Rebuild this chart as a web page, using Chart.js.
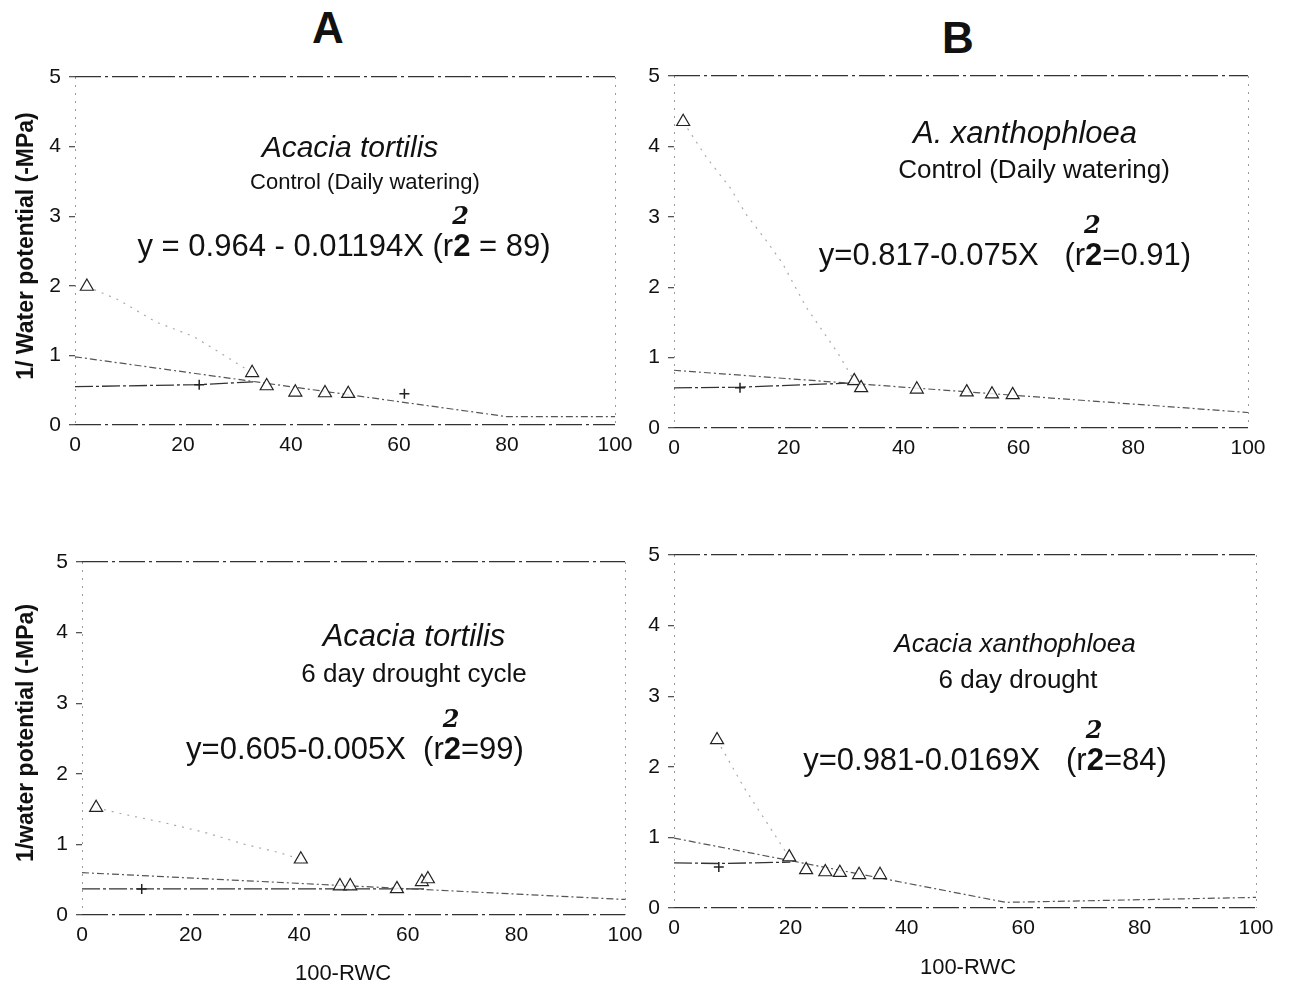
<!DOCTYPE html>
<html lang="en">
<head>
<meta charset="UTF-8" />
<title>1/Water potential vs 100-RWC</title>
<script src="https://cdn.jsdelivr.net/npm/chart.js@4.4.1/dist/chart.umd.min.js"></script>
<style>
  body { margin: 0; background: #fff; font-family: 'Liberation Sans', Arial, sans-serif; color: #111; }
  #page { position: relative; width: 1293px; height: 989px; overflow: hidden; }
  canvas.panel { position: absolute; }
  .txt { position: absolute; transform: translate(-50%, -50%); white-space: nowrap; }
  .letter { font-size: 44px; font-weight: bold; }
  .species { font-style: italic; font-size: 31px; }
  .treat { font-size: 26px; }
  .eq { font-size: 31px; }
  .r2 { position: relative; font-weight: 900; }
  .r2 i { position: absolute; left: -1px; top: -27px; font-size: 24px; font-family: 'DejaVu Serif', serif; font-weight: bold; }
  .ytitle { position: absolute; transform: translate(-50%, -50%) rotate(-90deg); font-size: 23px; font-weight: bold; white-space: nowrap; }
  .xtitle { font-size: 22px; }
</style>
</head>
<body>
<div id="page">
  <div class="txt letter" style="left:328px; top:28px;">A</div>
  <div class="txt letter" style="left:958px; top:38px;">B</div>

  <canvas id="panelA1" class="panel"></canvas>
  <canvas id="panelB1" class="panel"></canvas>
  <canvas id="panelA2" class="panel"></canvas>
  <canvas id="panelB2" class="panel"></canvas>

  <div class="ytitle" style="left:25px; top:246px;">1/ Water potential (-MPa)</div>
  <div class="ytitle" style="left:25px; top:733px;">1/water potential (-MPa)</div>

  <div class="txt species" style="left:350px; top:147px; font-size:30px;">Acacia tortilis</div>
  <div class="txt treat" style="left:365px; top:182px; font-size:22px;">Control (Daily watering)</div>
  <div class="txt eq" style="left:344px; top:246px;">y = 0.964 - 0.01194X (r<span class="r2">2<i>2</i></span> = 89)</div>

  <div class="txt species" style="left:1025px; top:133px;">A. xanthophloea</div>
  <div class="txt treat" style="left:1034px; top:169px;">Control (Daily watering)</div>
  <div class="txt eq" style="left:1005px; top:255px;">y=0.817-0.075X &nbsp; (r<span class="r2">2<i>2</i></span>=0.91)</div>

  <div class="txt species" style="left:414px; top:636px;">Acacia tortilis</div>
  <div class="txt treat" style="left:414px; top:673px;">6 day drought cycle</div>
  <div class="txt eq" style="left:355px; top:749px;">y=0.605-0.005X &nbsp;(r<span class="r2">2<i>2</i></span>=99)</div>

  <div class="txt species" style="left:1015px; top:643px; font-size:26px;">Acacia xanthophloea</div>
  <div class="txt treat" style="left:1018px; top:679px;">6 day drought</div>
  <div class="txt eq" style="left:985px; top:760px;">y=0.981-0.0169X &nbsp; (r<span class="r2">2<i>2</i></span>=84)</div>

  <div class="txt xtitle" style="left:343px; top:973px;">100-RWC</div>
  <div class="txt xtitle" style="left:968px; top:967px;">100-RWC</div>
</div>

<script>
  // axis ticks
  const xTicks = [0, 20, 40, 60, 80, 100];
  const yTicks = [0, 1, 2, 3, 4, 5];

  // A top: Acacia tortilis, control
  const a1TriX = [2.2, 32.8, 35.5, 40.8, 46.3, 50.6];
  const a1TriY = [1.99, 0.75, 0.56, 0.47, 0.46, 0.45];
  const a1PlusX = [23, 61];
  const a1PlusY = [0.58, 0.45];
  const a1RegX = [0, 80, 100];
  const a1RegY = [0.98, 0.12, 0.12];
  const a1CurveX = [2.2, 8, 15, 22, 26, 32.8];
  const a1CurveY = [1.99, 1.8, 1.48, 1.27, 1.08, 0.75];
  const a1FlatX = [0, 23, 33];
  const a1FlatY = [0.55, 0.58, 0.62];

  // B top: A. xanthophloea, control
  const b1TriX = [1.6, 31.4, 32.6, 42.3, 51, 55.4, 59];
  const b1TriY = [4.35, 0.67, 0.57, 0.55, 0.51, 0.48, 0.47];
  const b1PlusX = [11.5];
  const b1PlusY = [0.57];
  const b1RegX = [0, 100];
  const b1RegY = [0.82, 0.22];
  const b1CurveX = [1.6, 5.6, 9.8, 12.6, 16, 18.9, 23, 28.5, 31.4];
  const b1CurveY = [4.35, 3.85, 3.41, 3.03, 2.67, 2.34, 1.72, 1.07, 0.67];
  const b1FlatX = [0, 11.5, 31.4];
  const b1FlatY = [0.57, 0.58, 0.64];

  // A bottom: Acacia tortilis, 6 day drought cycle
  const a2TriX = [2.6, 40.3, 47.5, 49.4, 58, 62.6, 63.7];
  const a2TriY = [1.52, 0.79, 0.41, 0.41, 0.37, 0.47, 0.51];
  const a2PlusX = [11];
  const a2PlusY = [0.37];
  const a2RegX = [0, 100];
  const a2RegY = [0.6, 0.22];
  const a2CurveX = [2.6, 7.5, 15, 22.6, 30, 36, 40.3];
  const a2CurveY = [1.52, 1.43, 1.31, 1.17, 1.0, 0.89, 0.79];
  const a2FlatX = [0, 11, 63];
  const a2FlatY = [0.37, 0.37, 0.37];

  // B bottom: Acacia xanthophloea, 6 day drought
  const b2TriX = [7.4, 19.8, 22.7, 26, 28.5, 31.8, 35.4];
  const b2TriY = [2.38, 0.72, 0.54, 0.51, 0.5, 0.47, 0.47];
  const b2PlusX = [7.7];
  const b2PlusY = [0.58];
  const b2RegX = [0, 57, 100];
  const b2RegY = [0.99, 0.08, 0.15];
  const b2CurveX = [7.4, 12, 19.8];
  const b2CurveY = [2.38, 1.71, 0.72];
  const b2FlatX = [0, 7.7, 20];
  const b2FlatY = [0.64, 0.63, 0.65];

  function pts(xs, ys) {
    return xs.map((x, i) => ({ x: x, y: ys[i] }));
  }

  const tickFont = { family: "'Liberation Sans', Arial, sans-serif", size: 21 };

  function buildPanel(id, area, d) {
    const canvas = document.getElementById(id);
    const left = area.x0 - 60, top = area.y5 - 22;
    const w = area.x100 + 28 - left, h = area.y0 + 55 - top;
    canvas.style.left = left + 'px';
    canvas.style.top = top + 'px';
    canvas.width = w;
    canvas.height = h;
    canvas.style.width = w + 'px';
    canvas.style.height = h + 'px';

    new Chart(canvas, {
      type: 'scatter',
      data: {
        datasets: [
          {
            data: pts(d.triX, d.triY),
            pointStyle: 'triangle',
            radius: 7.5,
            borderColor: '#222',
            backgroundColor: 'rgba(255,255,255,0.85)',
            borderWidth: 1.2,
            showLine: false
          },
          {
            data: pts(d.plusX, d.plusY),
            pointStyle: 'cross',
            radius: 5,
            borderColor: '#222',
            borderWidth: 1.5,
            showLine: false
          },
          {
            data: pts(d.regX, d.regY),
            showLine: true,
            pointRadius: 0,
            borderColor: '#555',
            borderWidth: 1.2,
            borderDash: [7, 3, 2, 3]
          },
          {
            data: pts(d.curveX, d.curveY),
            showLine: true,
            pointRadius: 0,
            borderColor: '#aaa',
            borderWidth: 1.2,
            borderDash: [2, 6]
          },
          {
            data: pts(d.flatX, d.flatY),
            showLine: true,
            pointRadius: 0,
            borderColor: '#333',
            borderWidth: 1.3,
            borderDash: [18, 3, 3, 3]
          }
        ]
      },
      options: {
        responsive: false,
        animation: false,
        layout: { padding: { left: 10, right: 28, top: 22, bottom: 10 } },
        plugins: { legend: { display: false }, tooltip: { enabled: false } },
        scales: {
          x: {
            type: 'linear',
            min: xTicks[0],
            max: xTicks[xTicks.length - 1],
            afterBuildTicks: s => { s.ticks = xTicks.map(v => ({ value: v })); },
            afterFit: s => { s.height = 45; },
            ticks: { font: tickFont, color: '#111', padding: 8, maxRotation: 0 },
            grid: {
              drawTicks: false,
              lineWidth: 1,
              color: c => (c.tick && (c.tick.value === 0 || c.tick.value === 100)) ? '#9a9a9a' : 'rgba(0,0,0,0)'
            },
            border: { display: false, dash: [2, 6] }
          },
          y: {
            type: 'linear',
            min: yTicks[0],
            max: yTicks[yTicks.length - 1],
            afterBuildTicks: s => { s.ticks = yTicks.map(v => ({ value: v })); },
            afterFit: s => { s.width = 50; },
            ticks: { font: tickFont, color: '#111', padding: 8 },
            grid: {
              drawTicks: true,
              tickLength: 6,
              tickColor: '#555',
              tickBorderDash: [],
              lineWidth: 1.3,
              color: c => (c.tick && (c.tick.value === 0 || c.tick.value === 5)) ? '#333' : 'rgba(0,0,0,0)'
            },
            border: { display: false, dash: [26, 4, 3, 4] }
          }
        }
      }
    });
  }

  buildPanel('panelA1', { x0: 75, x100: 615, y5: 77, y0: 425 }, {
    triX: a1TriX, triY: a1TriY, plusX: a1PlusX, plusY: a1PlusY,
    regX: a1RegX, regY: a1RegY, curveX: a1CurveX, curveY: a1CurveY, flatX: a1FlatX, flatY: a1FlatY
  });
  buildPanel('panelB1', { x0: 674, x100: 1248, y5: 76, y0: 428 }, {
    triX: b1TriX, triY: b1TriY, plusX: b1PlusX, plusY: b1PlusY,
    regX: b1RegX, regY: b1RegY, curveX: b1CurveX, curveY: b1CurveY, flatX: b1FlatX, flatY: b1FlatY
  });
  buildPanel('panelA2', { x0: 82, x100: 625, y5: 562, y0: 915 }, {
    triX: a2TriX, triY: a2TriY, plusX: a2PlusX, plusY: a2PlusY,
    regX: a2RegX, regY: a2RegY, curveX: a2CurveX, curveY: a2CurveY, flatX: a2FlatX, flatY: a2FlatY
  });
  buildPanel('panelB2', { x0: 674, x100: 1256, y5: 555, y0: 908 }, {
    triX: b2TriX, triY: b2TriY, plusX: b2PlusX, plusY: b2PlusY,
    regX: b2RegX, regY: b2RegY, curveX: b2CurveX, curveY: b2CurveY, flatX: b2FlatX, flatY: b2FlatY
  });
</script>
</body>
</html>
